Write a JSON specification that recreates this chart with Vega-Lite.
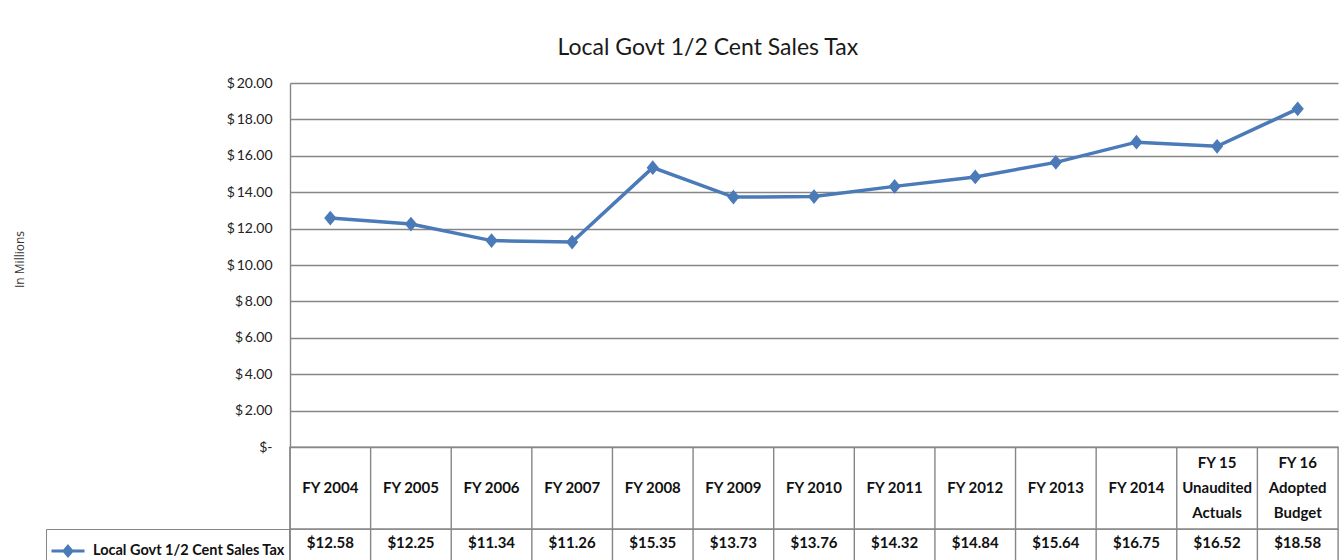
{
  "$schema": "https://vega.github.io/schema/vega-lite/v6.json",
  "padding": {"left": 13, "top": 37, "right": 5, "bottom": 0},
  "background": "white",
  "title": {"text": "Local Govt 1/2 Cent Sales Tax", "font": "Lato", "fontSize": 23, "fontWeight": "normal", "color": "#1a1a1a", "anchor": "middle", "dx": 32, "offset": 16},
  "data": {"values": [
    {"fy": "FY 2004", "value": 12.58, "series": "Local Govt 1/2 Cent Sales Tax"},
    {"fy": "FY 2005", "value": 12.25, "series": "Local Govt 1/2 Cent Sales Tax"},
    {"fy": "FY 2006", "value": 11.34, "series": "Local Govt 1/2 Cent Sales Tax"},
    {"fy": "FY 2007", "value": 11.26, "series": "Local Govt 1/2 Cent Sales Tax"},
    {"fy": "FY 2008", "value": 15.35, "series": "Local Govt 1/2 Cent Sales Tax"},
    {"fy": "FY 2009", "value": 13.73, "series": "Local Govt 1/2 Cent Sales Tax"},
    {"fy": "FY 2010", "value": 13.76, "series": "Local Govt 1/2 Cent Sales Tax"},
    {"fy": "FY 2011", "value": 14.32, "series": "Local Govt 1/2 Cent Sales Tax"},
    {"fy": "FY 2012", "value": 14.84, "series": "Local Govt 1/2 Cent Sales Tax"},
    {"fy": "FY 2013", "value": 15.64, "series": "Local Govt 1/2 Cent Sales Tax"},
    {"fy": "FY 2014", "value": 16.75, "series": "Local Govt 1/2 Cent Sales Tax"},
    {"fy": "FY 15\nUnaudited\nActuals", "value": 16.52, "series": "Local Govt 1/2 Cent Sales Tax"},
    {"fy": "FY 16\nAdopted\nBudget", "value": 18.58, "series": "Local Govt 1/2 Cent Sales Tax"}
  ]},
  "spacing": 0,
  "bounds": "flush",
  "resolve": {"legend": {"color": "independent"}},
  "vconcat": [
    {
      "width": 1048,
      "height": 364,
      "encoding": {
        "x": {"field": "fy", "type": "nominal", "sort": null, "scale": {"paddingInner": 0, "paddingOuter": 0}, "axis": null},
        "y": {"field": "value", "type": "quantitative", "scale": {"domain": [0, 20], "nice": false, "zero": true},
          "axis": {
            "title": "In Millions", "values": [0, 2, 4, 6, 8, 10, 12, 14, 16, 18, 20], "tickCount": 11,
            "labelOverlap": false,
            "grid": true, "gridColor": "#868686", "gridWidth": 1.4,
            "domain": true, "domainColor": "#868686", "domainWidth": 1.4,
            "ticks": false, "labelPadding": 18,
            "labelFont": "Lato", "labelFontSize": 14, "labelColor": "#222",
            "labelExpr": "datum.value == 0 ? '$-\u00a0\u00a0' : '$\u2009' + format(datum.value, '.2f')",
            "titleFont": "Open Sans", "titleFontSize": 12, "titleFontWeight": "normal", "titleColor": "#333",
            "titleX": -271, "titleY": 176, "titleAngle": -90, "titleBaseline": "middle", "titleAlign": "center"
          }
        }
      },
      "layer": [
        {
          "mark": {"type": "line", "strokeWidth": 3.5},
          "encoding": {
            "color": {"field": "series", "type": "nominal", "scale": {"range": ["#4a7ab8"]},
              "legend": {
                "orient": "none", "legendX": -244, "legendY": 446, "title": null,
                "symbolType": "M-1,0H1M0,-0.28L0.24,0L0,0.28L-0.24,0Z", "symbolSize": 1089,
                "symbolStrokeWidth": 3, "symbolFillColor": "#4a7ab8", "symbolStrokeColor": "#4a7ab8",
                "labelFont": "Lato", "labelFontSize": 14.5, "labelFontWeight": "bold", "labelColor": "#111",
                "labelOffset": 7, "padding": 4, "strokeColor": "#868686", "labelLimit": 300,
                "encode": {"symbols": {"update": {
                  "shape": {"value": "M-1,0H1M0,-0.28L0.24,0L0,0.28L-0.24,0Z"},
                  "size": {"value": 1089},
                  "stroke": {"value": "#4a7ab8"}, "strokeOpacity": {"value": 1}, "strokeWidth": {"value": 3},
                  "fill": {"value": "#4a7ab8"}, "fillOpacity": {"value": 1}, "opacity": {"value": 1}
                }}}
              }
            }
          }
        },
        {
          "mark": {"type": "point", "filled": true, "opacity": 1, "color": "#4a7ab8", "shape": "M0,-1.2L1,0L0,1.2L-1,0Z", "size": 150}
        }
      ]
    },
    {
      "width": 1048,
      "height": 82,
      "view": {"stroke": "#868686", "strokeWidth": 1.4},
      "layer": [
        {
          "mark": {"type": "rule", "color": "#868686", "strokeWidth": 1.4},
          "encoding": {"x": {"field": "fy", "type": "nominal", "sort": null, "bandPosition": 0, "scale": {"paddingInner": 0, "paddingOuter": 0}, "axis": null}}
        },
        {
          "transform": [{"filter": "indexof(datum.fy, '\\n') < 0"}],
          "mark": {"type": "text", "font": "Lato", "fontSize": 15, "fontWeight": "bold", "color": "#111"},
          "encoding": {
            "x": {"field": "fy", "type": "nominal", "sort": null, "scale": {"paddingInner": 0, "paddingOuter": 0}, "axis": null},
            "text": {"field": "fy"}
          }
        },
        {
          "transform": [{"filter": "indexof(datum.fy, '\\n') >= 0"}],
          "mark": {"type": "text", "font": "Lato", "fontSize": 15, "fontWeight": "bold", "lineBreak": "\n", "lineHeight": 25, "dy": -25, "color": "#111"},
          "encoding": {
            "x": {"field": "fy", "type": "nominal", "sort": null, "scale": {"paddingInner": 0, "paddingOuter": 0}, "axis": null},
            "text": {"field": "fy"}
          }
        }
      ]
    },
    {
      "width": 1048,
      "height": 34,
      "view": {"stroke": "#868686", "strokeWidth": 1.4},
      "layer": [
        {
          "mark": {"type": "rule", "color": "#868686", "strokeWidth": 1.4},
          "encoding": {"x": {"field": "fy", "type": "nominal", "sort": null, "bandPosition": 0, "scale": {"paddingInner": 0, "paddingOuter": 0}, "axis": null}}
        },
        {
          "mark": {"type": "text", "font": "Lato", "fontSize": 15, "fontWeight": "bold", "color": "#111", "dy": -3},
          "encoding": {
            "x": {"field": "fy", "type": "nominal", "sort": null, "scale": {"paddingInner": 0, "paddingOuter": 0}, "axis": null},
            "text": {"field": "value", "type": "quantitative", "format": "$.2f"}
          }
        }
      ]
    }
  ],
  "config": {"view": {"stroke": null}, "font": "Lato"}
}
